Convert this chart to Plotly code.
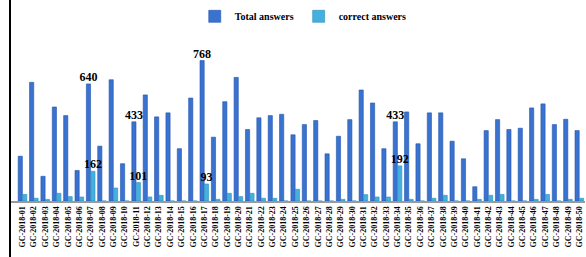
import plotly.graph_objects as go

categories = [f"GC-2018-{i:02d}" for i in range(1, 51)]

total_answers = [245, 649, 135, 514, 467, 167, 640, 300, 663, 204,
                 433, 580, 460, 482, 286, 563, 768, 349, 543, 676,
                 391, 455, 467, 474, 362, 418, 440, 258, 354, 445,
                 607, 536, 286, 433, 487, 313, 482, 482, 327, 231,
                 78, 385, 445, 391, 398, 509, 531, 418, 447, 385]

correct_answers = [36, 15, 9, 42, 24, 22, 162, 0, 71, 0,
                   101, 22, 31, 0, 0, 0, 93, 9, 42, 24,
                   42, 15, 15, 0, 64, 0, 0, 0, 9, 0,
                   35, 22, 22, 192, 9, 0, 15, 31, 0, 0,
                   9, 31, 36, 0, 0, 9, 36, 0, 9, 15]

labeled_idx = [6, 10, 16, 33]

total_text = [str(v) if i in labeled_idx else "" for i, v in enumerate(total_answers)]
correct_text = [str(v) if i in labeled_idx else "" for i, v in enumerate(correct_answers)]

lab_font = dict(family="Liberation Serif", size=12, color="black", weight="bold")

fig = go.Figure()
fig.add_trace(go.Bar(
    x=categories, y=total_answers, name="Total answers",
    marker=dict(color="#3a72d0", line=dict(color="#2456b0", width=0.6)),
    text=total_text, textposition="outside", textfont=lab_font, cliponaxis=False,
    constraintext="none",
))
fig.add_trace(go.Bar(
    x=categories, y=correct_answers, name="correct answers",
    marker=dict(color="#45b0de", line=dict(color="#2c8fbd", width=0.6)),
    text=correct_text, textposition="outside", textfont=lab_font, cliponaxis=False,
    constraintext="none",
))

fig.update_layout(
    width=586, height=257,
    margin=dict(l=10, r=1, t=30, b=56, autoexpand=False),
    paper_bgcolor="white", plot_bgcolor="white",
    barmode="group", bargap=0.22, bargroupgap=0.05,
    showlegend=True,
    legend=dict(orientation="h", x=0.51, xanchor="center", y=1.08, yanchor="middle",
                font=dict(family="Liberation Serif", size=10, color="black", weight="bold"),
                itemwidth=30, bgcolor="rgba(0,0,0,0)"),
    xaxis=dict(range=[-1.1, 49.5], tickangle=-90, showgrid=False, automargin=False,
               showline=True, linecolor="#9a9a9a", linewidth=2,
               tickfont=dict(family="Liberation Serif", size=8, color="black", weight="bold"),
               ticks=""),
    yaxis=dict(range=[0, 935], showgrid=False, showticklabels=False, zeroline=False,
               showline=False, ticks="", automargin=False),
    shapes=[dict(type="line", xref="paper", yref="paper", x0=0, x1=0, y0=-0.4, y1=1.2,
                 line=dict(color="black", width=2))],
)

fig.write_html("out.html", config={"displayModeBar": False},
               post_script="document.body.style.margin='0px';")
